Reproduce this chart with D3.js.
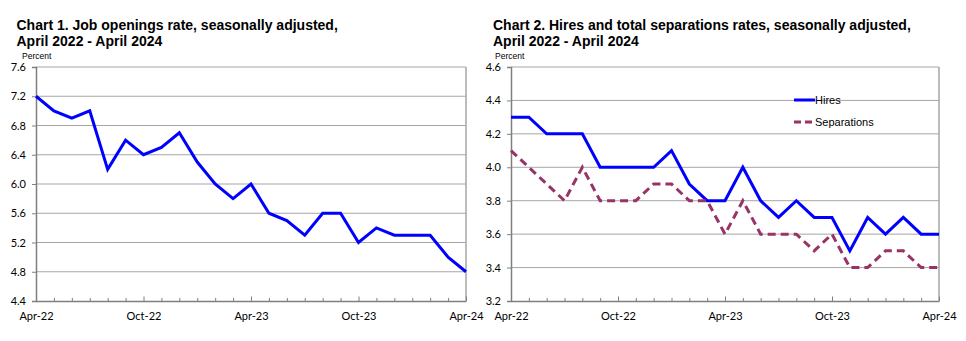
<!DOCTYPE html>
<html><head><meta charset="utf-8">
<script src="https://cdn.jsdelivr.net/npm/d3@7/dist/d3.min.js"></script>
<style>body{margin:0;background:#fff}svg{display:block}</style>
</head><body>
<svg id="c" width="966" height="341"></svg>
<script>
const months = ["Apr-22","May-22","Jun-22","Jul-22","Aug-22","Sep-22","Oct-22","Nov-22","Dec-22","Jan-23","Feb-23","Mar-23","Apr-23","May-23","Jun-23","Jul-23","Aug-23","Sep-23","Oct-23","Nov-23","Dec-23","Jan-24","Feb-24","Mar-24","Apr-24"];
const xTickLabels = ["Apr-22","Oct-22","Apr-23","Oct-23","Apr-24"];
const jobOpenings = [7.2,7.0,6.9,7.0,6.2,6.6,6.4,6.5,6.7,6.3,6.0,5.8,6.0,5.6,5.5,5.3,5.6,5.6,5.2,5.4,5.3,5.3,5.3,5.0,4.8];
const hires = [4.3,4.3,4.2,4.2,4.2,4.0,4.0,4.0,4.0,4.1,3.9,3.8,3.8,4.0,3.8,3.7,3.8,3.7,3.7,3.5,3.7,3.6,3.7,3.6,3.6];
const separations = [4.1,4.0,3.9,3.8,4.0,3.8,3.8,3.8,3.9,3.9,3.8,3.8,3.6,3.8,3.6,3.6,3.6,3.5,3.6,3.4,3.4,3.5,3.5,3.4,3.4];
const yTicks1 = [4.4,4.8,5.2,5.6,6.0,6.4,6.8,7.2,7.6];
const yTicks2 = [3.2,3.4,3.6,3.8,4.0,4.2,4.4,4.6];
const titles1 = ["Chart 1. Job openings rate, seasonally adjusted,","April 2022 - April 2024"];
const titles2 = ["Chart 2. Hires and total separations rates, seasonally adjusted,","April 2022 - April 2024"];
const legendLabels = ["Hires","Separations"];

const svg = d3.select("#c");
const FONT = "'Liberation Sans', Arial, sans-serif";
const TICKFONT = "Lato, 'Liberation Sans', sans-serif";

function panel(o){
  const g = svg.append("g");
  const x = d3.scaleLinear().domain([0, months.length-1]).range([o.left, o.right]);
  const y = d3.scaleLinear().domain(o.ydom).range([o.bottom, o.top]);
  o.titles.forEach((t,i)=>{
    g.append("text").attr("x", o.tx).attr("y", 30 + i*15.5).attr("font-family", FONT)
      .attr("font-weight","bold").attr("font-size", 14).attr("fill","#000").text(t);
  });
  g.append("text").attr("x", o.px).attr("y", 59).attr("font-family", FONT)
    .attr("font-size", 8.5).attr("fill","#000").text("Percent");
  // gridlines
  g.append("g").selectAll("line").data(o.yticks.slice(1)).join("line")
    .attr("x1", o.left).attr("x2", o.right).attr("y1", d=>y(d)).attr("y2", d=>y(d))
    .attr("stroke","#a6a6a6").attr("stroke-width",1);
  // right border
  g.append("line").attr("x1",o.right).attr("x2",o.right).attr("y1",o.top).attr("y2",o.bottom)
    .attr("stroke","#a6a6a6").attr("stroke-width",1.5);
  // y axis
  const ya = d3.axisLeft(y).tickValues(o.yticks).tickFormat(d3.format(".1f")).tickSize(4).tickPadding(6);
  const yg = g.append("g").attr("transform",`translate(${o.left},0)`).call(ya);
  yg.select(".domain").attr("stroke","#7f7f7f").attr("stroke-width",1.5);
  yg.selectAll(".tick line").attr("stroke","#7f7f7f");
  yg.selectAll("text").attr("font-family",TICKFONT).attr("font-size",11).attr("fill","#000");
  // x axis
  const xa = d3.axisBottom(x).tickValues(d3.range(months.length)).tickSize(0).tickFormat(()=>"");
  const xg = g.append("g").attr("transform",`translate(0,${o.bottom})`).call(xa);
  xg.select(".domain").attr("stroke","#7f7f7f").attr("stroke-width",1.5);
  xg.selectAll(".tick").append("line").attr("y1",0).attr("y2",(d)=> d%6===0 ? -4.5 : -3)
    .attr("stroke","#7f7f7f");
  xg.selectAll(".tick").filter(d=>xTickLabels.includes(months[d])).append("text")
    .attr("y",19).attr("text-anchor","middle").attr("font-family",TICKFONT).attr("font-size",11)
    .attr("fill","#000").text(d=>months[d]);
  // lines
  o.series.forEach(s=>{
    g.append("path").datum(s.data).attr("fill","none").attr("stroke",s.color)
      .attr("stroke-width",3).attr("stroke-linejoin","miter")
      .attr("stroke-dasharray", s.dash || null)
      .attr("d", d3.line().x((d,i)=>x(i)).y(d=>y(d)));
  });
  return {x,y,g};
}

panel({left:36,right:466,top:67,bottom:301,ydom:[4.4,7.6],yticks:yTicks1,titles:titles1,tx:16.5,px:22,
  series:[{data:jobOpenings,color:"#0000ff"}]});
const p2 = panel({left:511,right:939,top:67,bottom:301,ydom:[3.2,4.6],yticks:yTicks2,titles:titles2,tx:493,px:495,
  series:[{data:hires,color:"#0000ff"},{data:separations,color:"#993366",dash:"8,5"}]});

// legend
const leg = [{label:legendLabels[0],color:"#0000ff",dash:null,y:100},{label:legendLabels[1],color:"#993366",dash:"7,4",y:122}];
leg.forEach(l=>{
  p2.g.append("line").attr("x1",794).attr("x2",815).attr("y1",l.y).attr("y2",l.y)
    .attr("stroke",l.color).attr("stroke-width",3).attr("stroke-dasharray",l.dash);
  p2.g.append("text").attr("x",815).attr("y",l.y+4).attr("font-family",FONT).attr("font-size",11)
    .attr("fill","#000").text(l.label);
});
</script>
</body></html>
